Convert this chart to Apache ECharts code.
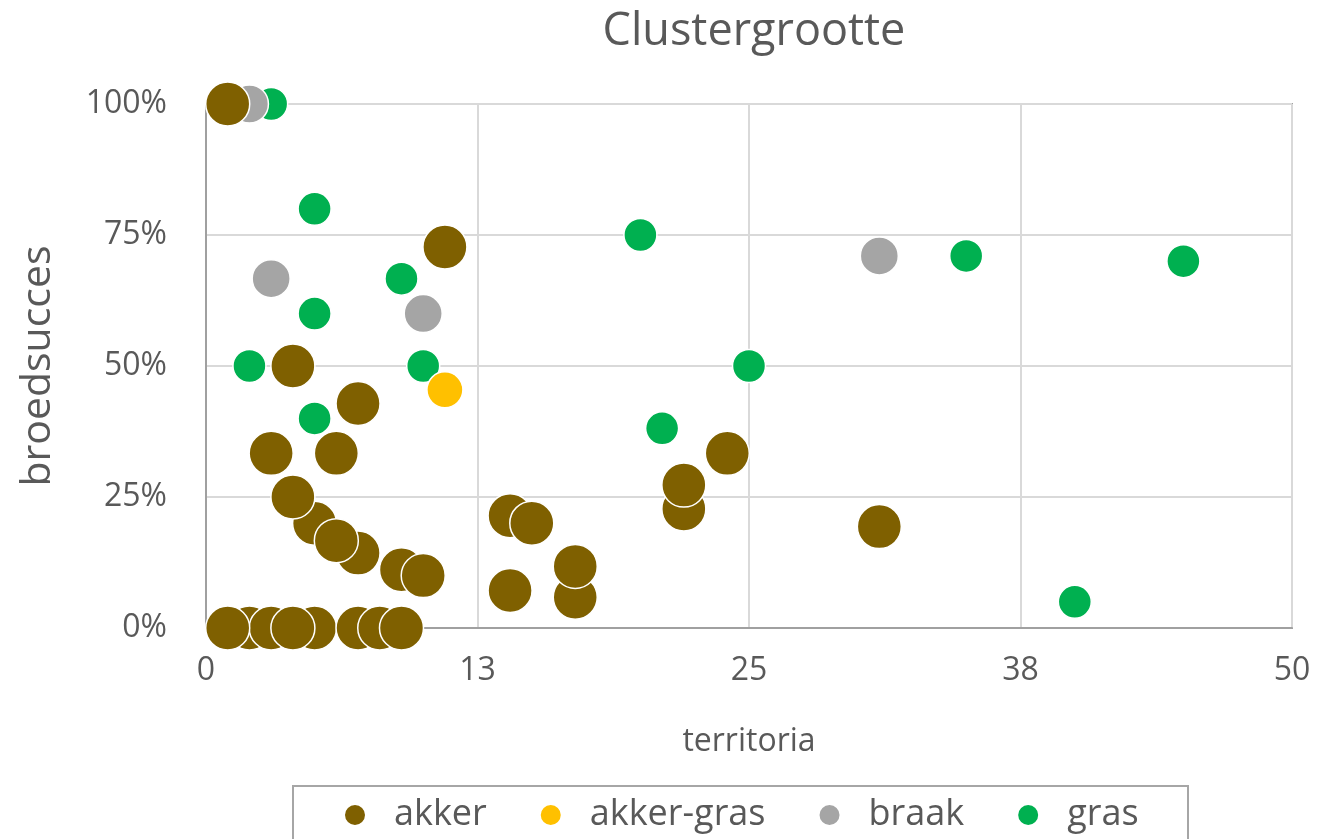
<!DOCTYPE html>
<html>
<head>
<meta charset="utf-8">
<script src="https://cdn.jsdelivr.net/npm/echarts@6/dist/echarts.min.js"></script>
<style>html,body{margin:0;padding:0;background:#fff}#c{width:1317px;height:839px}</style>
</head>
<body>
<div id="c"></div>
<script>
const seriesNames = ['akker', 'akker-gras', 'braak', 'gras'];
const akker = [
  [2, 0], [3, 0], [5, 0], [1, 0], [4, 0], [7, 0], [8, 0], [9, 0],
  [1, 1], [11, 0.727], [4, 0.5], [7, 0.4286], [3, 0.3333], [6, 0.3333],
  [5, 0.2], [4, 0.25], [7, 0.1429], [6, 0.1667], [9, 0.1111], [10, 0.1],
  [14, 0.2143], [15, 0.2], [14, 0.0714], [17, 0.0588], [17, 0.1176],
  [22, 0.2273], [22, 0.2727], [24, 0.3333], [31, 0.1935]
];
const akkerGras = [[11, 0.4545]];
const braak = [[2, 1], [3, 0.6667], [10, 0.6], [31, 0.71]];
const gras = [
  [3, 1], [5, 0.8], [9, 0.6667], [5, 0.6], [2, 0.5], [10, 0.5], [5, 0.4],
  [20, 0.75], [21, 0.381], [25, 0.5], [35, 0.71], [45, 0.7], [40, 0.05]
];
const xTicks = [0, 12.5, 25, 37.5, 50];
const yTicks = [0, 0.25, 0.5, 0.75, 1];

const FONT = '"Open Sans", sans-serif';
const TXT = '#595959';
const chart = echarts.init(document.getElementById('c'));
function sc(name, data, color, size) {
  return {
    name: name, type: 'scatter', data: data, symbolSize: size,
    itemStyle: { color: color, borderColor: '#ffffff', borderWidth: 1.5, opacity: 1 },
    emphasis: { disabled: true }
  };
}
chart.setOption({
  animation: false,
  backgroundColor: '#ffffff',
  title: {
    text: 'Clustergrootte', left: 749, top: 5, textAlign: 'center',
    textStyle: { fontFamily: FONT, fontSize: 45, fontWeight: 'normal', color: TXT }
  },
  grid: {
    left: 206, right: 25, top: 104, bottom: 211,
    show: true, borderColor: '#a0a0a0', borderWidth: 2
  },
  graphic: [{
    type: 'rect', shape: { x: 293, y: 786, width: 895, height: 80 },
    style: { fill: 'none', stroke: '#a6a6a6', lineWidth: 2 }, silent: true
  }],
  legend: {
    data: seriesNames, left: 338, top: 792, icon: 'circle',
    itemWidth: 22, itemHeight: 22, itemGap: 52,
    textStyle: { fontFamily: FONT, fontSize: 36, color: TXT, padding: [0, 0, 0, 23] }
  },
  xAxis: {
    type: 'value', min: xTicks[0], max: xTicks[xTicks.length - 1], interval: xTicks[1] - xTicks[0],
    name: 'territoria', nameLocation: 'middle', nameGap: 98,
    nameTextStyle: { fontFamily: FONT, fontSize: 32, color: TXT },
    axisLine: { show: true, lineStyle: { color: '#a0a0a0', width: 2 } },
    axisTick: { show: false },
    axisLabel: { fontFamily: FONT, fontSize: 32, color: TXT, margin: 27,
      formatter: v => String(Math.round(v)) },
    splitLine: { show: true, lineStyle: { color: '#d9d9d9', width: 2 } }
  },
  yAxis: {
    type: 'value', min: yTicks[0], max: yTicks[yTicks.length - 1], interval: yTicks[1] - yTicks[0],
    name: 'broedsucces', nameLocation: 'middle', nameGap: 147,
    nameTextStyle: { fontFamily: FONT, fontSize: 41, color: TXT },
    axisLine: { show: true, lineStyle: { color: '#a0a0a0', width: 2 } },
    axisTick: { show: false },
    axisLabel: { fontFamily: FONT, fontSize: 32, color: TXT, margin: 39,
      formatter: v => Math.round(v * 100) + '%' },
    splitLine: { show: true, lineStyle: { color: '#d9d9d9', width: 2 } }
  },
  series: [
    sc('gras', gras, '#00b050', 33),
    sc('braak', braak, '#a5a5a5', 38),
    sc('akker-gras', akkerGras, '#ffc000', 36),
    sc('akker', akker, '#7f6000', 44)
  ]
});
</script>
</body>
</html>
